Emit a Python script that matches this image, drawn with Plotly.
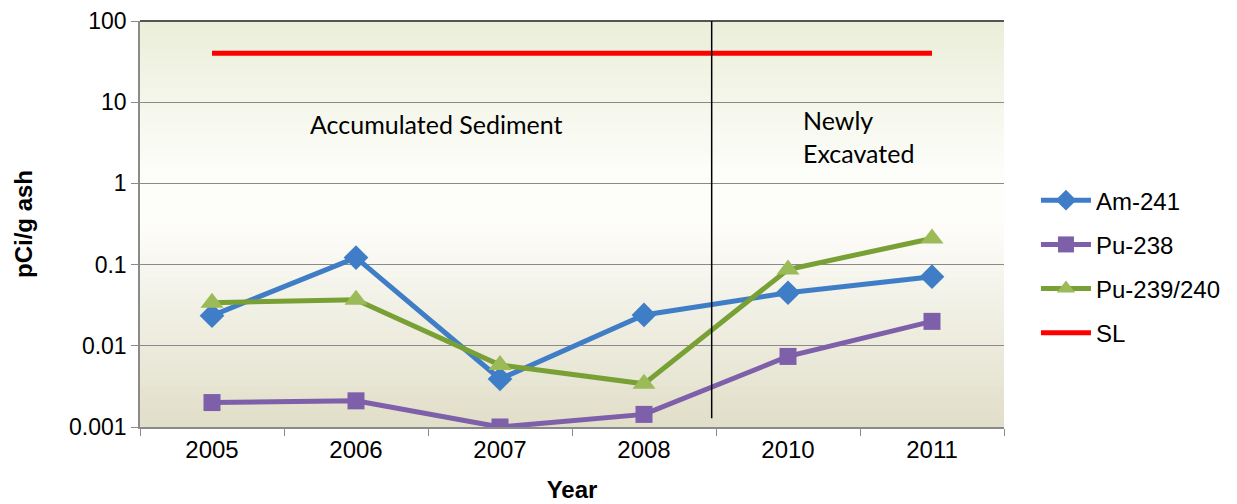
import plotly.graph_objects as go

years = ["2005", "2006", "2007", "2008", "2010", "2011"]
am241 = [0.0235, 0.122, 0.0039, 0.024, 0.045, 0.071]
pu238 = [0.0020, 0.0021, 0.0010, 0.00143, 0.0074, 0.020]
pu239 = [0.034, 0.037, 0.0058, 0.0034, 0.087, 0.21]
sl = [40, 40, 40, 40, 40, 40]
ytick_vals = [0.001, 0.01, 0.1, 1, 10, 100]
ytick_text = ["0.001", "0.01", "0.1", "1", "10", "100"]

fig = go.Figure()

fig.add_trace(go.Scatter(x=years, y=am241, name="Am-241", mode="lines+markers",
                         legendgroup="a",
                         line=dict(color="#3F7EC6", width=5),
                         marker=dict(symbol="diamond", size=19, color="#3F7EC6")))
fig.add_trace(go.Scatter(x=years, y=pu238, name="Pu-238", mode="lines+markers",
                         legendgroup="b",
                         line=dict(color="#7E5FAA", width=5),
                         marker=dict(symbol="square", size=17, color="#7E5FAA")))
fig.add_trace(go.Scatter(x=years, y=pu239, name="Pu-239/240", mode="lines+markers",
                         legendgroup="c",
                         line=dict(color="#78A034", width=5),
                         marker=dict(symbol="triangle-up", size=20, color="#9BBB59")))
fig.add_trace(go.Scatter(x=years, y=sl, name="SL", mode="lines",
                         legendgroup="d",
                         line=dict(color="#FF0000", width=5)))

# gradient background
def lerp(c1, c2, t):
    return tuple(round(a + (b - a) * t) for a, b in zip(c1, c2))

stops = [(0.0, (225, 222, 200)), (0.5, (253, 253, 250)), (0.62, (253, 253, 250)), (1.0, (235, 238, 217))]
n = 60
shapes = []
for i in range(n):
    y0 = i / n
    y1 = (i + 1) / n
    ym = (y0 + y1) / 2
    for j in range(len(stops) - 1):
        if stops[j][0] <= ym <= stops[j + 1][0]:
            t = (ym - stops[j][0]) / (stops[j + 1][0] - stops[j][0])
            c = lerp(stops[j][1], stops[j + 1][1], t)
            break
    shapes.append(dict(type="rect", xref="x domain", yref="y domain", x0=0, x1=1,
                       y0=y0, y1=y1 + 0.002, fillcolor="rgb(%d,%d,%d)" % c,
                       line=dict(width=0), layer="below"))
# top border
shapes.append(dict(type="line", xref="x domain", yref="y domain", x0=0, x1=1, y0=1, y1=1,
                   line=dict(color="#222222", width=1.5), layer="above"))
# divider line between 2008 and 2010
shapes.append(dict(type="line", xref="x", yref="y", x0=3.47, x1=3.47, y0=0.00128, y1=100,
                   line=dict(color="black", width=1.5), layer="above"))

fig.update_layout(
    width=1237, height=504,
    margin=dict(l=132, r=241, t=13, b=85),
    paper_bgcolor="white",
    plot_bgcolor="rgba(0,0,0,0)",
    font=dict(family="Liberation Sans, Arial, sans-serif", size=24, color="black"),
    shapes=shapes,
    showlegend=True,
    legend=dict(x=1.037, y=0.613, xanchor="left", yanchor="top",
                font=dict(size=24), tracegroupgap=10, itemwidth=50,
                bgcolor="rgba(0,0,0,0)"),
    annotations=[
        dict(x=1.56, y=0.73, xref="x", yref="y", text="Accumulated Sediment",
             showarrow=False, font=dict(family="Lato, sans-serif", size=25, color="black")),
        dict(x=4.09, y=0.58, xref="x", yref="y", text="Newly<br>Excavated",
             showarrow=False, xanchor="left", align="left",
             font=dict(family="Lato, sans-serif", size=25, color="black")),
    ],
)

fig.update_xaxes(
    type="category", range=[-0.5, 5.5], automargin=False,
    showgrid=False, showline=True, linecolor="#8a8a8a", linewidth=1.5,
    ticks="outside", ticklen=7, tickcolor="#8a8a8a", tickson="boundaries",
    title=dict(text="<b>Year</b>", font=dict(size=24), standoff=20),
    tickfont=dict(size=24),
)
fig.update_yaxes(
    type="log", range=[-3, 2], automargin=False,
    tickvals=ytick_vals, ticktext=ytick_text,
    showgrid=True, gridcolor="#8a8a8a", gridwidth=1.3,
    showline=True, linecolor="#8a8a8a", linewidth=1.5,
    ticks="outside", ticklen=7, tickcolor="#8a8a8a",
    title=dict(text="<b>pCi/g ash</b>", font=dict(size=24), standoff=30),
    tickfont=dict(size=23),
)

fig.write_html("out.html")
